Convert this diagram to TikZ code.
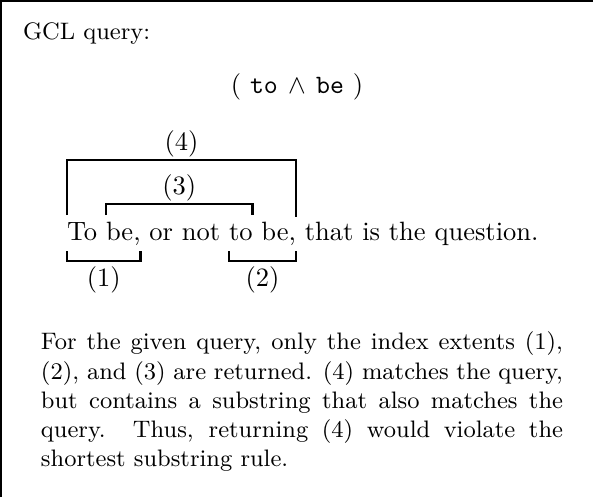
\documentclass[tikz,border=0pt]{standalone}
\usetikzlibrary{calc}
\newlength\spw
\begin{document}
\settowidth\spw{\ }
\begin{tikzpicture}[x=0.37736pt,y=-0.37736pt,
  lbl/.style={inner sep=0pt, outer sep=0pt, anchor=base},
  word/.style={inner sep=0pt, outer sep=0pt, anchor=base west},
  bracket/.style={line width=1.1pt},
  frame/.style={line width=0.8pt}]
\useasboundingbox (0,0) rectangle (593,497);
\draw[frame] (1,497) -- (1,1) -- (593,1);
\node[word, font=\small] (gcl) at (23,40) {GCL query:};
\node[lbl] (query) at (297,93) {$(\ \texttt{to}\mkern3mu\wedge\mkern3mu\texttt{be}\ )$};
% sentence
\node[word] (w1) at (67,240) {To};
\node[word] (w2) at ($(w1.base east)+(\spw,0)$) {be,};
\node[word] (w3) at ($(w2.base east)+(\spw,0)$) {or not};
\node[word] (w4) at ($(w3.base east)+(\spw,0)$) {to};
\node[word] (w5) at ($(w4.base east)+(\spw,0)$) {be,};
\node[word] (w6) at ($(w5.base east)+(\spw,0)$) {that is the question.};
% levels
\coordinate (t4) at (0,160);
\coordinate (b4l) at (0,215);
\coordinate (b4r) at (0,217);
\coordinate (t3) at (0,204);
\coordinate (b3) at (0,215);
\coordinate (tu) at (0,251);
\coordinate (bu) at (0,261);
\coordinate (y4) at (0,150);
\coordinate (y3) at (0,194);
\coordinate (yu) at (0,286);
% brackets
\draw[bracket] (w1.west |- b4l) -- (w1.west |- t4) -- (w5.east |- t4) -- (w5.east |- b4r);
\draw[bracket] (w2.west |- b3) -- (w2.west |- t3) -- (w4.east |- t3) -- (w4.east |- b3);
\draw[bracket] (w1.west |- tu) -- (w1.west |- bu) -- (w2.east |- bu) -- (w2.east |- tu);
\draw[bracket] (w4.west |- tu) -- (w4.west |- bu) -- (w5.east |- bu) -- (w5.east |- tu);
\node[lbl] (l4) at ($(w1.west |- y4)!0.5!(w5.east |- y4)$) {(4)};
\node[lbl] (l3) at ($(w2.west |- y3)!0.5!(w4.east |- y3)$) {(3)};
\node[lbl] (l1) at ($(w1.west |- yu)!0.5!(w2.east |- yu)$) {(1)};
\node[lbl] (l2) at ($(w4.west |- yu)!0.5!(w5.east |- yu)$) {(2)};
% paragraph
\node[anchor=north west, inner sep=0pt, outer sep=0pt, text width=197pt, align=justify, font=\small] (para) at (41,332)
{For the given query, only the index extents (1),\linebreak
(2), and (3) are returned. (4) matches the query,\linebreak
but contains a substring that also matches the\linebreak
query. Thus, returning (4) would violate the\linebreak
shortest substring rule.};
\end{tikzpicture}
\end{document}
